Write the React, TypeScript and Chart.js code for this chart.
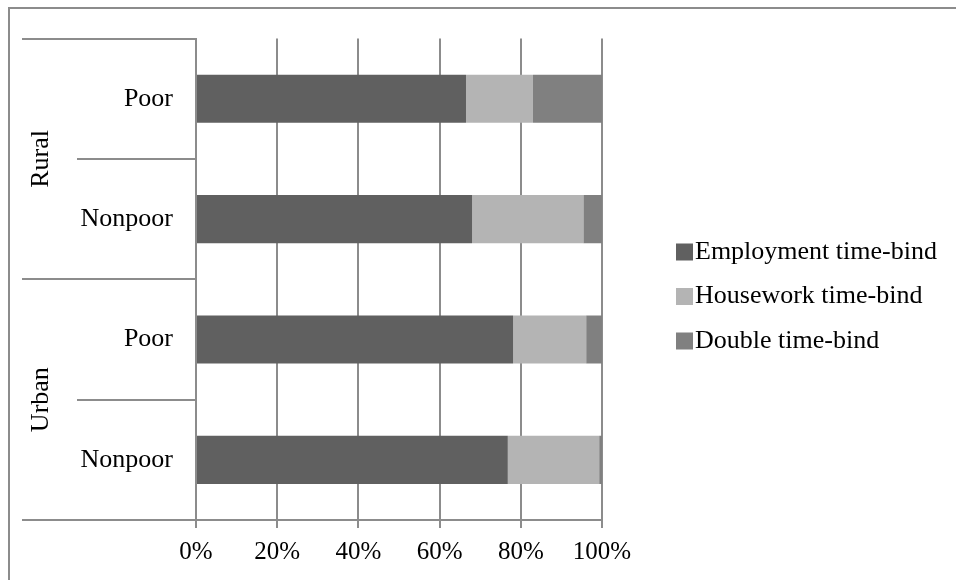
import { useEffect, useRef } from 'react';
import { Chart, registerables } from 'chart.js';

Chart.register(...registerables);

// Household groups (top to bottom) and their outer grouping
const categories = ['Poor', 'Nonpoor', 'Poor', 'Nonpoor'];
const groups = ['Rural', 'Urban'];
const groupSize = 2;

// Share of each time-bind type, percent
const seriesNames = ['Employment time-bind', 'Housework time-bind', 'Double time-bind'];
const employment = [66.5, 68.0, 78.1, 76.8];
const housework = [16.5, 27.4, 18.0, 22.5];
const doubleBind = [17.0, 4.6, 3.9, 0.7];
const seriesColors = ['#606060', '#b4b4b4', '#808080'];

const xMin = 0;
const xMax = 100;
const xStep = 20;

const FONT = "'Liberation Serif', 'Times New Roman', serif";
const LINE = '#8c8c8c';

// Two-level category axis: separators in the label area and rotated group names
const groupAxisPlugin = {
  id: 'groupAxis',
  afterDraw(chart: any) {
    const { ctx } = chart;
    const y = chart.scales.y;
    const n = categories.length;
    const bounds: number[] = [];
    for (let k = 0; k <= n; k++) {
      if (k === 0) bounds.push(y.top);
      else if (k === n) bounds.push(y.bottom);
      else bounds.push((y.getPixelForValue(k - 1) + y.getPixelForValue(k)) / 2);
    }
    ctx.save();
    ctx.strokeStyle = LINE;
    ctx.lineWidth = 2;
    bounds.forEach((b, k) => {
      const x0 = k % groupSize === 0 ? 22 : 77;
      ctx.beginPath();
      ctx.moveTo(x0, Math.round(b));
      ctx.lineTo(y.right, Math.round(b));
      ctx.stroke();
    });
    ctx.fillStyle = '#000';
    ctx.font = `26px ${FONT}`;
    ctx.textAlign = 'center';
    ctx.textBaseline = 'middle';
    groups.forEach((g, gi) => {
      const a = y.getPixelForValue(gi * groupSize);
      const b = y.getPixelForValue(gi * groupSize + groupSize - 1);
      const cy = (a + b) / 2;
      ctx.save();
      ctx.translate(41, cy);
      ctx.rotate(-Math.PI / 2);
      ctx.fillText(g, 0, 0);
      ctx.restore();
    });
    ctx.restore();
  },
};

// Legend to the right of the plot: small square swatch followed by the series name
const sideLegendPlugin = {
  id: 'sideLegend',
  afterDraw(chart: any) {
    const { ctx } = chart;
    const ds = chart.data.datasets;
    const x = 676;
    const box = 17;
    const rowGap = 44.5;
    const midY = 296.5;
    const startY = midY - ((ds.length - 1) * rowGap) / 2;
    ctx.save();
    ctx.font = `26px ${FONT}`;
    ctx.textAlign = 'left';
    ctx.textBaseline = 'middle';
    ds.forEach((d: any, i: number) => {
      const cy = startY + i * rowGap;
      ctx.fillStyle = d.backgroundColor;
      ctx.fillRect(x, cy - box / 2, box, box);
      ctx.fillStyle = '#000';
      ctx.fillText(d.label, x + box + 2, cy);
    });
    ctx.restore();
  },
};

export default function App() {
  const canvasRef = useRef<HTMLCanvasElement | null>(null);

  useEffect(() => {
    const canvas = canvasRef.current;
    if (!canvas) return;
    const series = [employment, housework, doubleBind];
    const chart = new Chart(canvas, {
      type: 'bar',
      data: {
        labels: categories,
        datasets: series.map((values, i) => ({
          label: seriesNames[i],
          data: values,
          backgroundColor: seriesColors[i],
          borderWidth: 0,
          categoryPercentage: 1,
          barPercentage: 0.4,
        })),
      },
      options: {
        indexAxis: 'y',
        animation: false,
        responsive: false,
        maintainAspectRatio: false,
        layout: { padding: { left: 0, top: 36, right: 354, bottom: 0 } },
        plugins: {
          legend: { display: false },
          tooltip: { enabled: false },
        },
        scales: {
          x: {
            type: 'linear',
            stacked: true,
            min: xMin,
            max: xMax,
            afterFit: (s: any) => {
              s.height = 60;
            },
            ticks: {
              stepSize: xStep,
              callback: (v: any) => `${v}%`,
              color: '#000',
              font: { family: FONT, size: 25 },
              padding: 9,
              maxRotation: 0,
            },
            grid: {
              color: LINE,
              lineWidth: 2,
              tickLength: 8,
              drawTicks: true,
            },
            border: { color: LINE, width: 2 },
          },
          y: {
            type: 'category',
            stacked: true,
            afterFit: (s: any) => {
              s.width = 196;
            },
            ticks: {
              color: '#000',
              font: { family: FONT, size: 26 },
              padding: 23,
            },
            grid: { display: false, drawTicks: false },
            border: { color: LINE, width: 2 },
          },
        },
      },
      plugins: [groupAxisPlugin, sideLegendPlugin],
    } as any);
    return () => chart.destroy();
  }, []);

  return (
    <div style={{ position: 'fixed', left: 0, top: 0, width: 956, height: 580, background: '#fff' }}>
      <div
        style={{
          position: 'absolute',
          left: 8,
          top: 7,
          width: 948,
          height: 573,
          borderLeft: `2px solid ${LINE}`,
          borderTop: `2px solid ${LINE}`,
          boxSizing: 'border-box',
        }}
      />
      <canvas
        ref={canvasRef}
        width={956}
        height={580}
        style={{ position: 'absolute', left: 0, top: 0, width: 956, height: 580 }}
      />
    </div>
  );
}
